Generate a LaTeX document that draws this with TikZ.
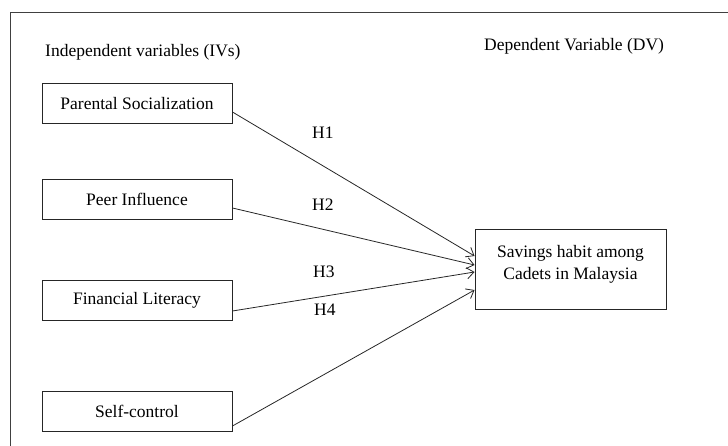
\documentclass[tikz,border=0pt]{standalone}
\usepackage{fontspec}
\setmainfont{Liberation Serif}
\usepackage{xcolor}
\usepackage{tikz}
\usetikzlibrary{arrows.meta, positioning}
\definecolor{framegray}{HTML}{404040}
\definecolor{boxblack}{HTML}{262626}

\begin{document}
\begin{tikzpicture}[x=1pt, y=-1pt, font=\fontsize{17.5}{22}\selectfont]
    % Styles
    \tikzstyle{varbox} = [rectangle, draw=boxblack, line width=0.9pt, minimum width=190pt, minimum height=40pt, text centered, inner sep=0pt]
    \tikzstyle{dvbox} = [rectangle, draw=boxblack, line width=0.9pt, minimum width=191pt, minimum height=80pt, align=center, inner sep=0pt]
    \tikzstyle{heading} = [anchor=base west, inner sep=0pt]
    \tikzstyle{hyp} = [anchor=base west, inner sep=0pt]
    \tikzstyle{arrow} = [line width=0.8pt, draw=boxblack, -{Straight Barb[length=7pt, width=11pt]}]

    \useasboundingbox (0,0) rectangle (728,446);
    \draw[framegray, line width=0.9pt] (728,12) -- (10,12) -- (10,446);

    % Titles
    \node[heading] (ivtitle) at (45,57) {Independent variables (IVs)};
    \node[heading] (dvtitle) at (484,51) {Dependent Variable (DV)};

    % Nodes - using absolute positioning
    \node[varbox] (parent) at (137,103.5) {Parental Socialization};
    \node[varbox] (peer) at (137,199.5) {Peer Influence};
    \node[varbox] (literacy) at (137,300.5) {Financial Literacy};
    \node[varbox] (control) at (137,411.5) {Self-control};
    \node[dvbox] (savings) at (570.5,269) {Savings habit among\\Cadets in Malaysia\\[-8pt]\mbox{}};

    % Hypothesis labels
    \node[hyp] (h1) at (312,139) {H1};
    \node[hyp] (h2) at (312,211) {H2};
    \node[hyp] (h3) at (313,278) {H3};
    \node[hyp] (h4) at (314,316) {H4};

    % Arrows
    \draw[arrow] ([yshift=-8.5pt]parent.east) -- ([yshift=13pt]savings.west);
    \draw[arrow] ([yshift=-8.5pt]peer.east) -- ([yshift=4pt]savings.west);
    \draw[arrow] ([yshift=-10.5pt]literacy.east) -- ([yshift=-3pt]savings.west);
    \draw[arrow] ([yshift=-14.5pt]control.east) -- ([yshift=-21pt]savings.west);
\end{tikzpicture}
\end{document}
